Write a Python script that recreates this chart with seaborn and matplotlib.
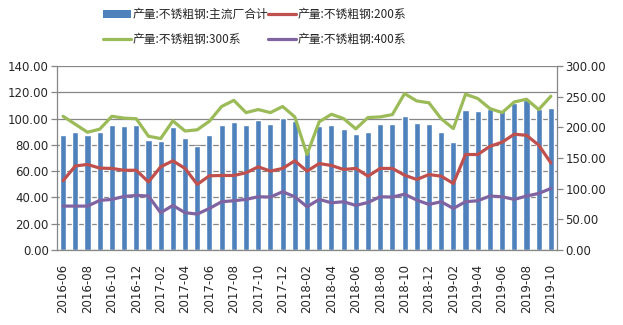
import numpy as np
import pandas as pd
import matplotlib
matplotlib.use("Agg")
import matplotlib.pyplot as plt
import seaborn as sns
from matplotlib.patches import Patch
from matplotlib.lines import Line2D

months = pd.period_range("2016-06", "2019-10", freq="M").strftime("%Y-%m").tolist()

total_main = [87.3, 89.9, 87.3, 89.9, 94.9, 94.2, 94.9, 83.5, 82.8, 93.4,
              85.1, 79.0, 87.3, 94.9, 97.2, 94.9, 98.7, 95.7, 100.3, 98.0,
              75.0, 94.2, 94.9, 91.9, 88.1, 89.6, 95.7, 95.7, 101.8, 96.7,
              95.7, 89.6, 82.0, 106.3, 105.8, 107.6, 106.8, 111.9, 114.4, 107.6,
              108.1]
s200 = [113, 137, 139.5, 133.5, 133, 130, 130, 111, 135.6, 145.4,
        133, 107, 121, 121.5, 121.5, 125.9, 135.6, 128.6, 133, 145.4,
        128.6, 141, 137.8, 131.3, 133, 120.4, 133, 133, 122, 115,
        123, 120.4, 108.5, 155.7, 155.7, 169, 175.8, 188.8, 187, 171,
        142]
s300 = [218, 205, 192, 197, 218, 215, 214, 185.5, 181.7, 210.5,
        194, 196, 210, 234, 244, 224, 229, 224, 234, 217,
        155.7, 209, 221.3, 214.3, 197.5, 216, 217, 220.8, 255, 243,
        240, 214, 198, 254, 247, 230.6, 224, 241.4, 245.8, 229,
        250.7]
s400 = [71.6, 71.6, 71.6, 80.8, 82.5, 87.3, 89, 88, 60.8, 72.7,
        60.8, 58.6, 67.8, 78.7, 80.3, 82.5, 86.8, 86.3, 95, 86.8,
        70.5, 82.5, 77, 78.7, 72.7, 77.5, 86.8, 86.3, 91, 81.4,
        74.3, 78.7, 67.8, 78.7, 80.3, 88, 86.8, 82.5, 88, 92.2,
        100.4]

labels = ["产量:不锈粗钢:主流厂合计", "产量:不锈粗钢:200系",
          "产量:不锈粗钢:300系", "产量:不锈粗钢:400系"]
c_bar, c200, c300, c400 = "#4F81BD", "#C0504D", "#9BBB59", "#8064A2"

sns.set_theme(style="white")
plt.rcParams["font.family"] = ["DejaVu Sans", "Noto Sans CJK SC"]

fig = plt.figure(figsize=(6.23, 3.25), dpi=100)
ax = fig.add_axes([57/623, 1-250/325, 500/623, 184/325])

df = pd.DataFrame({"month": months, "total": total_main})
sns.barplot(data=df, x="month", y="total", color=c_bar, saturation=1,
            width=0.5, ax=ax, zorder=2)
ax.set_ylim(0, 140)
ax.set_yticks(np.arange(0, 141, 20))
ax.set_yticklabels([f"{v:.2f}" for v in np.arange(0, 141, 20)], fontsize=8.5)
ax.yaxis.grid(True, color="#868686", lw=0.9, zorder=0)
ax.set_axisbelow(True)
ax.set_xlim(-0.5, len(months) - 0.5)
ax.set_xlabel("")
ax.set_ylabel("")
xs = np.arange(len(months))
ax.set_xticks(xs[::2])
ax.set_xticklabels(months[::2], rotation=90, fontsize=8.5)
ax.set_xticks(np.arange(-0.5, len(months), 2), minor=True)
ax.tick_params(axis="x", which="major", length=0, pad=10)
ax.tick_params(axis="x", which="minor", length=4, color="#868686", width=0.9,
               direction="out")
ax.tick_params(axis="y", length=4, color="#868686", width=0.9, direction="out",
               pad=2, left=True)
for s in ["top", "right"]:
    ax.spines[s].set_visible(False)
for s in ["left", "bottom"]:
    ax.spines[s].set_color("#868686")
    ax.spines[s].set_linewidth(0.9)

ax2 = ax.twinx()
ldf = pd.DataFrame({"x": xs, "s200": s200, "s300": s300, "s400": s400})
for col, c in [("s200", c200), ("s300", c300), ("s400", c400)]:
    sns.lineplot(data=ldf, x="x", y=col, color=c, lw=2.3, ax=ax2, zorder=3)
ax2.set_ylim(0, 300)
ax2.set_yticks(np.arange(0, 301, 50))
ax2.set_yticklabels([f"{v:.2f}" for v in np.arange(0, 301, 50)], fontsize=8.5)
ax2.set_ylabel("")
ax2.set_xlim(-0.5, len(months) - 0.5)
ax2.tick_params(axis="y", length=4, color="#868686", width=0.9, direction="out",
                pad=2, right=True)
for s in ["top", "left", "bottom"]:
    ax2.spines[s].set_visible(False)
ax2.spines["right"].set_color("#868686")
ax2.spines["right"].set_linewidth(0.9)

handles = [Patch(facecolor=c_bar, edgecolor="none"),
           Line2D([], [], color=c300, lw=2.3),
           Line2D([], [], color=c200, lw=2.3),
           Line2D([], [], color=c400, lw=2.3)]
leg_labels = [labels[0], labels[2], labels[1], labels[3]]
fig.legend(handles, leg_labels, ncol=2, loc="upper left",
           bbox_to_anchor=(92/623, 1.008), frameon=False,
           prop={"family": ["Noto Sans CJK SC", "DejaVu Sans"], "size": 8.5},
           handlelength=2.4, handleheight=0.6, handletextpad=0.1,
           columnspacing=0.0, labelspacing=1.05)

fig.savefig("out.png", dpi=100)
